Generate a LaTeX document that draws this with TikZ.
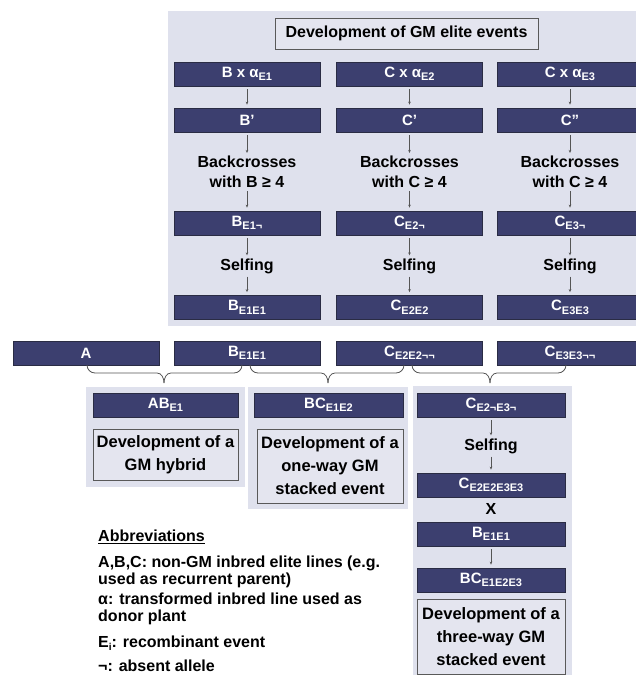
\documentclass[tikz,border=0pt]{standalone}
\usepackage{fontspec}
\setmainfont{Liberation Sans}
\usetikzlibrary{arrows.meta}
\definecolor{navy}{HTML}{3C3F6F}
\definecolor{navyedge}{HTML}{2A2C44}
\definecolor{panel}{HTML}{DFE1ED}
\definecolor{infofill}{HTML}{E4E5EF}
\definecolor{arrowgray}{HTML}{555555}
\newcommand{\sbx}[1]{\raisebox{-3.5pt}{\fontsize{11}{11}\selectfont #1}}
\tikzset{
 darkbox/.style={draw=navyedge, line width=0.8pt, fill=navy, text=white, minimum width=146pt, minimum height=24pt, inner sep=0pt, font=\fontsize{15}{15}\selectfont\bfseries},
 infobox/.style={draw=gray!70!black, line width=0.9pt, fill=infofill, align=center, inner sep=0pt, font=\fontsize{16.5}{23}\selectfont\bfseries},
 steptext/.style={align=center, inner sep=0pt, font=\fontsize{16}{20}\selectfont\bfseries},
 flow/.style={draw=arrowgray, line width=0.5pt, -{Stealth[length=3pt,width=2.6pt]}, shorten <=3pt, shorten >=3pt},
 bracel/.style={draw=arrowgray, line width=0.8pt},
 abbr/.style={anchor=west, align=left, inner sep=0pt, font=\fontsize{16}{17}\selectfont\bfseries},
}
\begin{document}
\begin{tikzpicture}[x=1pt,y=-1pt]
\useasboundingbox (0,0) rectangle (636,675);
\clip (0,0) rectangle (636,675);
% top panel
\fill[panel] (168,11) rectangle (640,326);
\node[infobox, minimum width=263pt, minimum height=31pt, font=\fontsize{16}{18}\selectfont\bfseries] (title) at (406.5,33.5) {Development of GM elite events};
% column 1
\node[darkbox] (a1) at (247,74) {B x α\sbx{E1}};
\node[darkbox] (a2) at (247,120) {B'};
\node[steptext] (a3) at (247,172) {Backcrosses\\with B ≥ 4};
\node[darkbox] (a4) at (247,223) {B\sbx{E1¬}};
\node[steptext] (a5) at (247,266) {Selfing};
\node[darkbox] (a6) at (247,307.5) {B\sbx{E1E1}};
% column 2
\node[darkbox] (b1) at (409.5,74) {C x α\sbx{E2}};
\node[darkbox] (b2) at (409.5,120) {C'};
\node[steptext] (b3) at (409.5,172) {Backcrosses\\with C ≥ 4};
\node[darkbox] (b4) at (409.5,223) {C\sbx{E2¬}};
\node[steptext] (b5) at (409.5,266) {Selfing};
\node[darkbox] (b6) at (409.5,307.5) {C\sbx{E2E2}};
% column 3
\node[darkbox] (c1) at (570,74) {C x α\sbx{E3}};
\node[darkbox] (c2) at (570,120) {C''};
\node[steptext] (c3) at (570,172) {Backcrosses\\with C ≥ 4};
\node[darkbox] (c4) at (570,223) {C\sbx{E3¬}};
\node[steptext] (c5) at (570,266) {Selfing};
\node[darkbox] (c6) at (570,307.5) {C\sbx{E3E3}};
\foreach \c in {a,b,c}{
  \draw[flow] (\c1) -- (\c2);
  \draw[flow] (\c2) -- (\c3);
  \draw[flow] (\c3) -- (\c4);
  \draw[flow] (\c4) -- (\c5);
  \draw[flow] (\c5) -- (\c6);
}
% middle row
\node[darkbox] (mA) at (86,353) {A};
\node[darkbox] (mB) at (247,353) {B\sbx{E1E1}};
\node[darkbox] (mC) at (409.5,353) {C\sbx{E2E2¬¬}};
\node[darkbox] (mD) at (570,353) {C\sbx{E3E3¬¬}};
% braces
\coordinate (t1) at (164,383);
\coordinate (t2) at (328,383);
\coordinate (t3) at (490,383);
\draw[bracel] (87,365) to[out=-90,in=180] (95,373) -- (157,373) to[out=0,in=90] (t1);
\draw[bracel] (242,365) to[out=-90,in=0] (234,373) -- (171,373) to[out=180,in=90] (t1);
\draw[bracel] (250,365) to[out=-90,in=180] (258,373) -- (321,373) to[out=0,in=90] (t2);
\draw[bracel] (404,365) to[out=-90,in=0] (396,373) -- (335,373) to[out=180,in=90] (t2);
\draw[bracel] (412,365) to[out=-90,in=180] (420,373) -- (483,373) to[out=0,in=90] (t3);
\draw[bracel] (566,365) to[out=-90,in=0] (558,373) -- (497,373) to[out=180,in=90] (t3);
% lower panels
\fill[panel] (86,387) rectangle (245,487);
\fill[panel] (248,387) rectangle (408,509);
\fill[panel] (413,386) rectangle (572,680);
% panel 1
\node[darkbox, minimum width=145pt] (p1) at (165.5,405) {AB\sbx{E1}};
\node[infobox, minimum width=145pt, minimum height=51pt] (d1) at (165.5,454.5) {Development of a\\GM hybrid};
% panel 2
\node[darkbox, minimum width=149pt] (p2) at (328.5,405) {BC\sbx{E1E2}};
\node[infobox, minimum width=146pt, minimum height=74pt] (d2) at (330,466) {Development of a\\one-way GM\\stacked event};
% panel 3
\node[darkbox, minimum width=148pt] (q1) at (491,405) {C\sbx{E2¬E3¬}};
\node[steptext] (q2) at (491,446) {Selfing};
\node[darkbox, minimum width=148pt] (q3) at (491,485) {C\sbx{E2E2E3E3}};
\node[steptext] (q4) at (491,509) {X};
\node[darkbox, minimum width=148pt] (q5) at (491,534) {B\sbx{E1E1}};
\node[darkbox, minimum width=148pt] (q6) at (491,580) {BC\sbx{E1E2E3}};
\node[infobox, minimum width=148pt, minimum height=75pt] (d3) at (491,636.5) {Development of a\\three-way GM\\stacked event};
\draw[flow] (q1) -- (q2);
\draw[flow] (q2) -- (q3);
\draw[flow] (q5) -- (q6);
% abbreviations
\node[abbr] (ab0) at (98,537) {\underline{Abbreviations}};
\node[abbr] (ab1) at (98,572) {A,B,C: non-GM inbred elite lines (e.g.\\used as recurrent parent)};
\node[abbr] (ab2) at (98,609) {α: transformed inbred line used as\\donor plant};
\node[abbr] (ab3) at (98,643) {E\raisebox{-3pt}{\fontsize{10}{10}\selectfont i}: recombinant event};
\node[abbr] (ab4) at (98,666) {¬: absent allele};
\end{tikzpicture}
\end{document}
